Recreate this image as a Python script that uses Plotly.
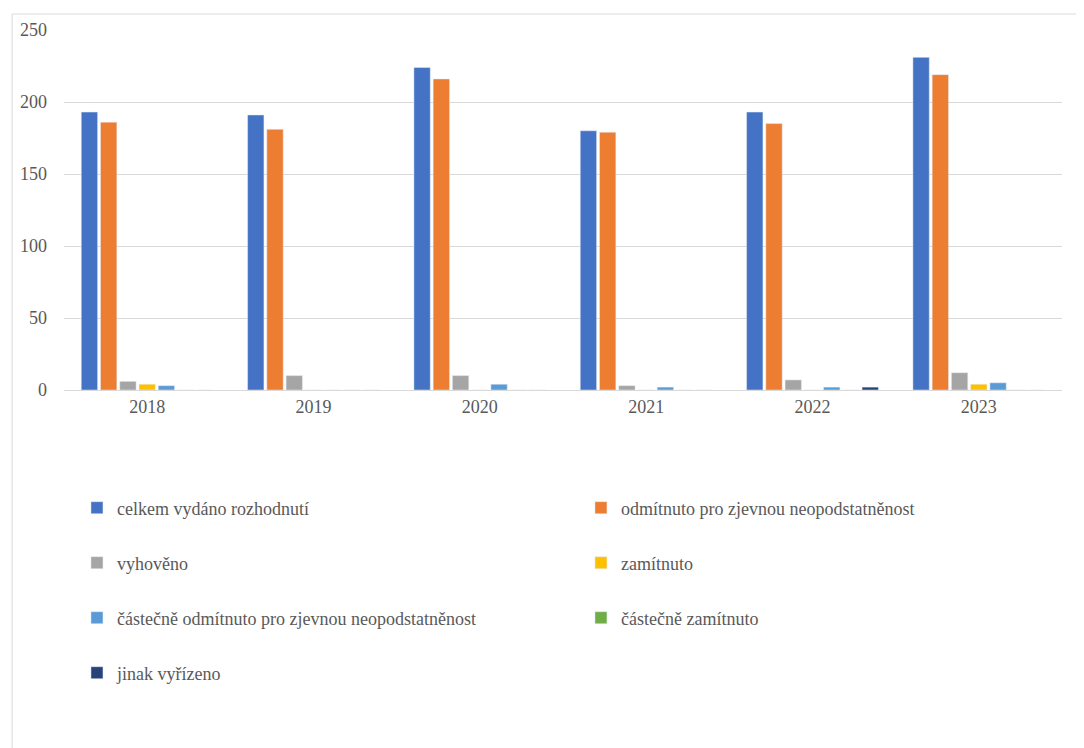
import plotly.graph_objects as go

years = ["2018", "2019", "2020", "2021", "2022", "2023"]
series_names = [
    "celkem vydáno rozhodnutí",
    "odmítnuto pro zjevnou neopodstatněnost",
    "vyhověno",
    "zamítnuto",
    "částečně odmítnuto pro zjevnou neopodstatněnost",
    "částečně zamítnuto",
    "jinak vyřízeno",
]
celkem = [193, 191, 224, 180, 193, 231]
odmitnuto = [186, 181, 216, 179, 185, 219]
vyhoveno = [6, 10, 10, 3, 7, 12]
zamitnuto = [4, 0, 0, 0, 0, 4]
castecne_odmitnuto = [3, 0, 4, 2, 2, 5]
castecne_zamitnuto = [0, 0, 0, 0, 0, 0]
jinak = [0, 0, 0, 0, 2, 0]
values = [celkem, odmitnuto, vyhoveno, zamitnuto, castecne_odmitnuto, castecne_zamitnuto, jinak]
colors = ["#4472C4", "#ED7D31", "#A5A5A5", "#FFC000", "#5B9BD5", "#70AD47", "#264478"]

FONT = "'Liberation Serif', 'Times New Roman', Times, serif"
TXT = "#595959"
FS = 18
OFF = 8  # page body margin
L, T, W, H = 62 - OFF, 30 - OFF, 1000, 360
FW, FH = 1084 - OFF, 748 - OFF

def px2paper(x, y):
    return (x - OFF - L) / W, (T + H - (y - OFF)) / H

fig = go.Figure()
legend_pos = [(115, 508), (620, 508), (115, 563), (620, 563), (115, 618), (620, 618), (115, 673)]
layout_legends = {}
for i, (name, vals, col) in enumerate(zip(series_names, values, colors)):
    lname = "legend" if i == 0 else f"legend{i+1}"
    fig.add_trace(go.Bar(name=name, x=years, y=vals, marker_color=col,
                         legend=lname, showlegend=True))
    lx, ly = px2paper(legend_pos[i][0] - 40, legend_pos[i][1])
    layout_legends[lname] = dict(x=lx, y=ly, xanchor="left", yanchor="middle",
                                 bgcolor="rgba(0,0,0,0)",
                                 font=dict(family=FONT, size=FS, color=TXT))

x0, y0 = px2paper(10, 14)
x1, y1 = px2paper(1078, 760)

fig.update_layout(
    width=FW, height=FH,
    margin=dict(l=L, r=FW - L - W, t=T, b=FH - T - H),
    paper_bgcolor="white", plot_bgcolor="white",
    barmode="group", bargap=0.19, bargroupgap=0.15,
    font=dict(family=FONT, size=FS, color=TXT),
    xaxis=dict(showgrid=False, ticks="", showline=True, linecolor="#D9D9D9",
               linewidth=1, tickfont=dict(family=FONT, size=FS, color=TXT)),
    yaxis=dict(range=[0, 250], dtick=50, showgrid=True, gridcolor="#D9D9D9",
               gridwidth=1, zeroline=False, showline=False, ticks="",
               ticklabelstandoff=16,
               tickfont=dict(family=FONT, size=FS, color=TXT)),
    shapes=[dict(type="rect", xref="paper", yref="paper", x0=x0, y0=y1, x1=x1, y1=y0,
                 line=dict(color="#D9D9D9", width=1), fillcolor="rgba(0,0,0,0)", layer="below")],
    **layout_legends,
)

fig.write_html("out.html")
